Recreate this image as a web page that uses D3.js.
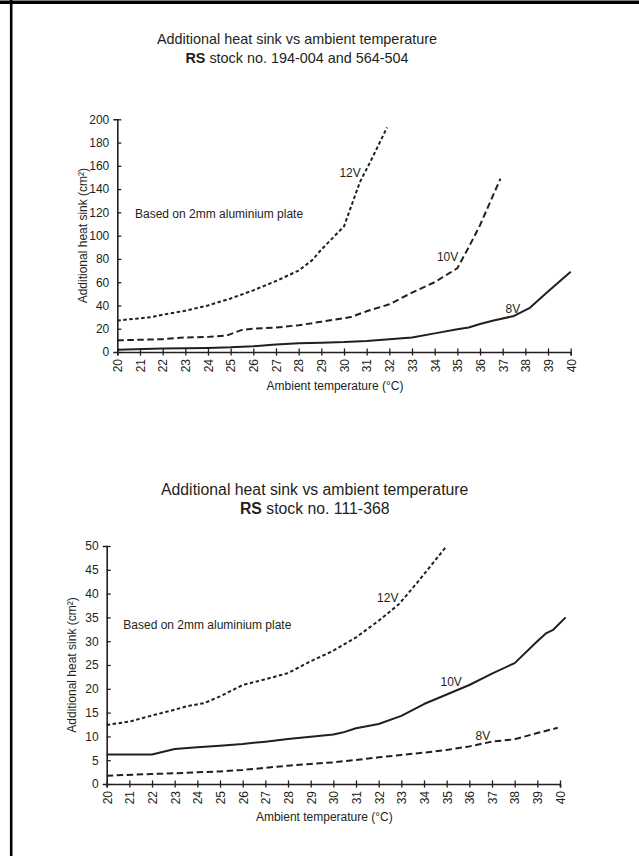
<!DOCTYPE html>
<html>
<head>
<meta charset="utf-8">
<script src="https://cdn.jsdelivr.net/npm/d3@7"></script>
<style>
  html, body { margin: 0; padding: 0; background: #fff; }
  svg { display: block; }
  text { font-family: "Liberation Sans", Arial, Helvetica, sans-serif; fill: #231f20; }
</style>
</head>
<body>
<svg id="chart" width="639" height="856"></svg>
<script>
// ---------- DATA ----------
const xTicks = d3.range(20, 41, 1);

// Chart 1: RS stock no. 194-004 and 564-504
const c1YTicks = d3.range(0, 201, 20);
const c1_12V = [[20,27],[21,29],[21.5,30],[22,32],[23,35.5],[24,40],[25,46],[26,53],[27,61],[28,70],[28.6,79],[29,88],[30,108],[30.7,146],[31.2,165],[31.9,193]];
const c1_10V = [[20,10],[22,11],[23,12.5],[24,13],[24.8,14],[25.5,19],[26,20],[27,21],[28,23],[29,26],[30,29],[30.3,30],[31,35],[32,41],[33,51],[34,60],[35,72],[35.5,90],[36,109],[36.9,149]];
const c1_8V = [[20,2],[22,3],[24,3.5],[25,4],[26,5],[27,6.5],[28,7.5],[29,8],[30,8.5],[31,9.5],[32,11],[33,12.5],[34,16],[35,19.5],[35.5,21],[36,24],[36.6,27],[37.5,31],[38.2,38],[39,52],[40,69]];

// Chart 2: RS stock no. 111-368
const c2YTicks = d3.range(0, 51, 5);
const c2_12V = [[20,12.4],[21,13.1],[22,14.4],[23,15.6],[23.5,16.3],[24.3,17],[25,18.4],[26,20.8],[27,22],[28,23.3],[29,25.8],[30,28],[31,30.8],[32,34.3],[32.9,37.8],[33.7,42.3],[35,50]];
const c2_10V = [[20,6.2],[22,6.2],[23,7.35],[24,7.7],[25,8.05],[26,8.4],[27,8.9],[28,9.45],[29,9.95],[30,10.4],[30.4,10.8],[31,11.7],[32,12.6],[33,14.3],[34,16.8],[35,18.8],[36,20.8],[37,23.2],[38,25.4],[39,30],[39.4,31.7],[39.7,32.4],[40.25,35]];
const c2_8V = [[20,1.75],[22,2.1],[23,2.25],[24,2.45],[25,2.65],[26,2.95],[27,3.4],[28,3.85],[29,4.2],[30,4.55],[31,5.05],[32,5.6],[33,6.1],[34,6.6],[35,7.15],[36,7.9],[37,8.9],[38,9.4],[39,10.7],[39.9,11.8]];

const titleLine1 = "Additional heat sink vs ambient temperature";
const c1Stock = " stock no. 194-004 and 564-504";
const c2Stock = " stock no. 111-368";
const xTitle = "Ambient temperature (°C)";
const yTitle = "Additional heat sink (cm²)";
const note = "Based on 2mm aluminium plate";

// ---------- DRAW ----------
const svg = d3.select("#chart");
const ink = "#231f20";

// page border (top and left)
svg.append("line").attr("x1", 0).attr("x2", 639).attr("y1", 2.3).attr("y2", 2.3).attr("stroke", "#000").attr("stroke-width", 3.4);
svg.append("line").attr("x1", 11.2).attr("x2", 11.2).attr("y1", 0).attr("y2", 856).attr("stroke", "#000").attr("stroke-width", 2.6);

function drawChart(cfg) {
  const x = d3.scaleLinear().domain([20, 40]).range(cfg.xr);
  const y = d3.scaleLinear().domain(cfg.yd).range(cfg.yr);
  const g = svg.append("g");

  // title
  const t = g.append("text").attr("text-anchor", "middle").style("font-size", cfg.titleSize + "px");
  t.append("tspan").attr("x", cfg.titleX).attr("y", cfg.titleY1).text(titleLine1);
  const t2 = t.append("tspan").attr("x", cfg.titleX).attr("y", cfg.titleY2);
  t2.append("tspan").style("font-weight", "bold").text("RS");
  t2.append("tspan").text(cfg.stock);

  // x axis
  const xa = g.append("g").attr("transform", `translate(0,${cfg.yr[0]})`)
    .call(d3.axisBottom(x).tickValues(xTicks).tickSizeOuter(0).tickSize(3.6).tickFormat(d3.format("d")));
  xa.select(".domain").attr("stroke", ink).attr("stroke-width", 1.6);
  xa.selectAll(".tick line").attr("y1", -3.6).attr("stroke", ink).attr("stroke-width", 1.3);
  xa.selectAll(".tick text")
    .attr("transform", "rotate(-90)")
    .attr("text-anchor", "end")
    .attr("x", -7).attr("y", 0).attr("dy", "0.36em")
    .style("font-size", "12px").attr("fill", ink)
    .style("font-family", '"Liberation Sans", Arial, sans-serif');

  // y axis
  const ya = g.append("g").attr("transform", `translate(${cfg.xr[0]},0)`)
    .call(d3.axisLeft(y).tickValues(cfg.yTicks).tickSizeOuter(0).tickSize(4).tickPadding(4));
  ya.select(".domain").attr("stroke", ink).attr("stroke-width", 1.6);
  ya.selectAll(".tick line").attr("x2", 4).attr("stroke", ink).attr("stroke-width", 1.3);
  ya.selectAll(".tick text").style("font-size", "12px").attr("fill", ink)
    .style("font-family", '"Liberation Sans", Arial, sans-serif');

  // axis titles
  g.append("text").attr("x", (cfg.xr[0] + cfg.xr[1]) / 2 - 9).attr("y", cfg.xTitleY)
    .attr("text-anchor", "middle").style("font-size", "12px").text(xTitle);
  g.append("text")
    .attr("transform", `translate(${cfg.yTitleX},${(cfg.yr[0] + cfg.yr[1]) / 2}) rotate(-90)`)
    .attr("text-anchor", "middle").attr("dy", "0.35em").style("font-size", "12px").text(yTitle);

  // note
  g.append("text").attr("x", cfg.noteX).attr("y", cfg.noteY).style("font-size", "12px").text(note);

  // lines
  const line = d3.line().x(d => x(d[0])).y(d => y(d[1]));
  cfg.series.forEach(s => {
    g.append("path").datum(s.data).attr("d", line)
      .attr("fill", "none").attr("stroke", ink).attr("stroke-width", 2)
      .attr("stroke-dasharray", s.dash).attr("stroke-linejoin", "round");
    g.append("text").attr("x", x(s.lx)).attr("y", y(s.ly))
      .attr("text-anchor", "middle").style("font-size", "12px").text(s.name);
  });
}

drawChart({
  xr: [117.3, 570.7], yd: [0, 200], yr: [352, 119.3], yTicks: c1YTicks,
  titleX: 297, titleY1: 44, titleY2: 63, titleSize: 14.4, stock: c1Stock,
  xTitleY: 389.5, yTitleX: 82.5, noteX: 135, noteY: 217.5,
  series: [
    { name: "12V", data: c1_12V, dash: "3.5,2.5", lx: 30.27, ly: 150.8 },
    { name: "10V", data: c1_10V, dash: "6.5,3.5", lx: 34.57, ly: 78.5 },
    { name: "8V", data: c1_8V, dash: null, lx: 37.45, ly: 33.1 }
  ]
});

drawChart({
  xr: [106.7, 560], yd: [0, 50], yr: [784, 546], yTicks: c2YTicks,
  titleX: 314.7, titleY1: 495, titleY2: 513.5, titleSize: 15.8, stock: c2Stock,
  xTitleY: 821, yTitleX: 72, noteX: 123.3, noteY: 629,
  series: [
    { name: "12V", data: c2_12V, dash: "3.5,2.5", lx: 32.4, ly: 38.3 },
    { name: "10V", data: c2_10V, dash: null, lx: 35.2, ly: 20.5 },
    { name: "8V", data: c2_8V, dash: "6.5,3.5", lx: 36.6, ly: 9.24 }
  ]
});
</script>
</body>
</html>
